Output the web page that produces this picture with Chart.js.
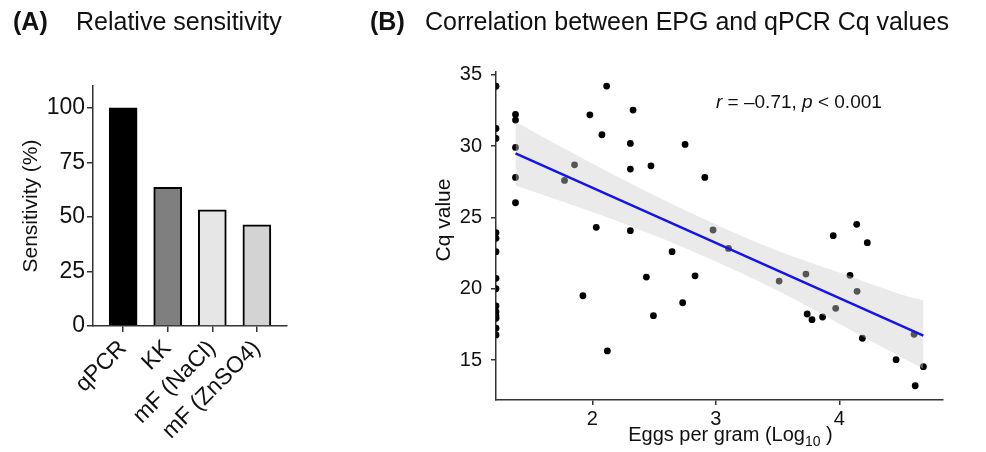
<!DOCTYPE html>
<html><head><meta charset="utf-8">
<script src="https://cdn.jsdelivr.net/npm/chart.js@4.4.1/dist/chart.umd.min.js"></script>
<style>
html,body{margin:0;padding:0;background:#fff;}
#wrap{position:relative;width:986px;height:452px;overflow:hidden;}
#cA{position:absolute;left:0;top:0;}
#cB{position:absolute;left:340px;top:0;}
</style></head><body>
<div id="wrap"><canvas id="cA" width="330" height="452"></canvas><canvas id="cB" width="646" height="452"></canvas></div>
<script>
// ---------- DATA: panel A ----------
const sensCategories = ['qPCR', 'KK', 'mF (NaCl)', 'mF (ZnSO4)'];
const sensValues = [100, 63.6, 53.3, 46.4];
const sensTicks = [0, 25, 50, 75, 100];

// ---------- DATA: panel B ----------
const eggLog = [
  1.22, 1.22, 1.22, 1.22, 1.22, 1.22, 1.22, 1.22, 1.22, 1.22, 1.22, 1.22, 1.22, 1.22,
  1.378, 1.378, 1.378, 1.378, 1.378,
  1.775, 1.856, 1.98, 2.078, 2.116, 2.032, 2.33, 2.308, 2.751, 2.308, 2.475, 2.911,
  2.978, 2.308, 3.103, 2.646, 2.438, 2.832, 2.732, 2.495, 1.924, 2.122,
  3.951, 4.227, 4.141, 3.73, 3.513, 4.087, 4.144, 3.971, 3.74, 3.779, 3.865,
  4.187, 4.46, 4.606, 4.681, 4.615
];
const cqValue = [
  34.2, 31.24, 30.54, 23.93, 23.54, 22.6, 20.73, 20.0, 18.79, 18.39, 18.09, 17.93, 17.23, 16.76,
  32.22, 31.83, 29.91, 27.81, 26.03,
  27.6, 28.69, 32.2, 30.8, 34.21, 24.31, 32.53, 30.19, 30.12, 28.39, 28.62, 27.81,
  24.12, 24.07, 22.83, 22.6, 20.82, 20.91, 19.02, 18.11, 19.51, 15.64,
  23.72, 23.23, 24.52, 21.03, 20.54, 20.94, 19.82, 18.63, 18.23, 17.83, 18.02,
  16.53, 15.03, 16.81, 14.54, 13.2
];
const fitX = [1.378, 4.681];
const fitY = [29.49, 16.71];
const bandX = [1.378, 2.0, 2.5, 3.0, 3.5, 4.0, 4.5, 4.681];
const bandUpper = [31.7, 28.78, 26.55, 24.51, 22.67, 21.14, 19.6, 19.2];
const bandLower = [27.24, 25.38, 23.75, 21.91, 19.87, 17.54, 15.2, 14.4];
const cqTicks = [15, 20, 25, 30, 35];
const eggTicks = [2, 3, 4];
const corrText = { r: '-0.71', p: '0.001' };

// ---------- common ----------
const FONT = "'Liberation Sans', Arial, Helvetica, sans-serif";
Chart.defaults.font.family = FONT;
Chart.defaults.color = '#111';

function textPlugin(id, items) {
  return {
    id,
    afterDraw(chart) {
      const ctx = chart.ctx;
      const ca = chart.chartArea;
      items.forEach(it => {
        const runs = it.runs;
        ctx.save();
        ctx.fillStyle = it.color || '#111';
        ctx.textBaseline = 'alphabetic';
        ctx.textAlign = 'left';
        let total = 0;
        runs.forEach(r => { ctx.font = r.font; r.w = ctx.measureText(r.text).width; total += r.w; });
        const pos = it.pos(ca);
        ctx.translate(pos.x, pos.y);
        if (it.rot) ctx.rotate(it.rot);
        let x = it.align === 'center' ? -total / 2 : 0;
        runs.forEach(r => { ctx.font = r.font; ctx.fillText(r.text, x, r.dy || 0); x += r.w; });
        ctx.restore();
      });
    }
  };
}

const axisCol = '#333';

// ---------- Panel A ----------
new Chart(document.getElementById('cA'), {
  type: 'bar',
  data: {
    datasets: [{
      data: sensCategories.map((c, i) => ({ x: i, y: sensValues[i] })),
      backgroundColor: ['#000000', '#7f7f7f', '#e6e6e6', '#d3d3d3'],
      borderColor: '#000',
      borderWidth: 2,
      barThickness: 28
    }]
  },
  options: {
    responsive: false, animation: false, devicePixelRatio: 1,
    layout: { padding: { left: 0, right: 43, top: 86, bottom: 0 } },
    plugins: { legend: { display: false }, tooltip: { enabled: false } },
    scales: {
      x: {
        type: 'linear', min: -0.676, max: 3.676, offset: false,
        afterBuildTicks: s => { s.ticks = sensCategories.map((c, i) => ({ value: i })); },
        afterFit: s => { s.height = 126; },
        ticks: { callback: v => sensCategories[v], minRotation: 45, maxRotation: 45, font: { size: 23 }, padding: 3, color: '#111' },
        grid: { offset: false, drawOnChartArea: false, drawTicks: true, tickLength: 6, color: axisCol, lineWidth: 1.5 },
        border: { display: true, color: axisCol, width: 1.5 }
      },
      y: {
        min: 0, max: 110,
        afterBuildTicks: s => { s.ticks = sensTicks.map(v => ({ value: v })); },
        afterFit: s => { s.width = 93; },
        ticks: { font: { size: 23 }, padding: 2, color: '#111' },
        grid: { drawOnChartArea: false, drawTicks: true, tickLength: 6, color: axisCol, lineWidth: 1.5 },
        border: { display: true, color: axisCol, width: 1.5 }
      }
    }
  },
  plugins: [textPlugin('txtA', [
    { runs: [{ text: '(A)', font: 'bold 25px ' + FONT }], pos: () => ({ x: 13, y: 30 }) },
    { runs: [{ text: 'Relative sensitivity', font: '25px ' + FONT }], pos: () => ({ x: 76, y: 30 }) },
    { runs: [{ text: 'Sensitivity (%)', font: '21px ' + FONT }], align: 'center', rot: -Math.PI / 2,
      pos: ca => ({ x: 37, y: (ca.top + ca.bottom) / 2 }) }
  ])]
});

// ---------- Panel B ----------
new Chart(document.getElementById('cB'), {
  type: 'scatter',
  data: {
    datasets: [
      { type: 'line', data: fitX.map((x, i) => ({ x, y: fitY[i] })), borderColor: '#1414e6', borderWidth: 2.4,
        pointRadius: 0, fill: false, order: 0 },
      { type: 'line', data: bandX.map((x, i) => ({ x, y: bandUpper[i] })), borderWidth: 0, borderColor: 'rgba(0,0,0,0)',
        pointRadius: 0, backgroundColor: 'rgba(205,205,205,0.42)', fill: '+1', tension: 0.3, order: 1 },
      { type: 'line', data: bandX.map((x, i) => ({ x, y: bandLower[i] })), borderWidth: 0, borderColor: 'rgba(0,0,0,0)',
        pointRadius: 0, fill: false, tension: 0.3, order: 1 },
      { data: eggLog.map((x, i) => ({ x, y: cqValue[i] })), pointRadius: 3.4, pointBackgroundColor: '#000',
        backgroundColor: '#000', pointBorderWidth: 0, borderWidth: 0, order: 2, clip: 0 }
    ]
  },
  options: {
    responsive: false, animation: false, devicePixelRatio: 1,
    layout: { padding: { left: 0, right: 43, top: 72, bottom: 0 } },
    plugins: { legend: { display: false }, tooltip: { enabled: false } },
    scales: {
      x: {
        type: 'linear', min: 1.22, max: 4.84,
        afterBuildTicks: s => { s.ticks = eggTicks.map(v => ({ value: v })); },
        afterFit: s => { s.height = 52; },
        ticks: { font: { size: 20 }, padding: 2, color: '#111' },
        grid: { drawOnChartArea: false, drawTicks: true, tickLength: 5, color: axisCol, lineWidth: 1.5 },
        border: { display: true, color: axisCol, width: 1.5 }
      },
      y: {
        min: 12.2, max: 35.2,
        afterBuildTicks: s => { s.ticks = cqTicks.map(v => ({ value: v })); },
        afterFit: s => { s.width = 156; },
        ticks: { font: { size: 20 }, padding: 9, color: '#111' },
        grid: { drawOnChartArea: false, drawTicks: true, tickLength: 5, color: axisCol, lineWidth: 1.5 },
        border: { display: true, color: axisCol, width: 1.5 }
      }
    }
  },
  plugins: [textPlugin('txtB', [
    { runs: [{ text: '(B)', font: 'bold 25px ' + FONT }], pos: () => ({ x: 30, y: 30 }) },
    { runs: [{ text: 'Correlation between EPG and qPCR Cq values', font: '25px ' + FONT }], pos: () => ({ x: 85, y: 30 }) },
    { runs: [{ text: 'Cq value', font: '21px ' + FONT }], align: 'center', rot: -Math.PI / 2,
      pos: ca => ({ x: 110, y: (ca.top + ca.bottom) / 2 - 16 }) },
    { runs: [
        { text: 'Eggs per gram (Log', font: '20px ' + FONT },
        { text: '10', font: '14px ' + FONT, dy: 5 },
        { text: ' )', font: '20px ' + FONT }
      ], align: 'center', pos: ca => ({ x: (ca.left + ca.right) / 2 + 11, y: 441 }) },
    { runs: [
        { text: 'r', font: 'italic 19px ' + FONT },
        { text: ' = \u2013' + corrText.r.replace('-', '') + ', ', font: '19px ' + FONT },
        { text: 'p', font: 'italic 19px ' + FONT },
        { text: ' < ' + corrText.p, font: '19px ' + FONT }
      ], pos: () => ({ x: 376, y: 108 }) }
  ])]
});
</script>
</body></html>
